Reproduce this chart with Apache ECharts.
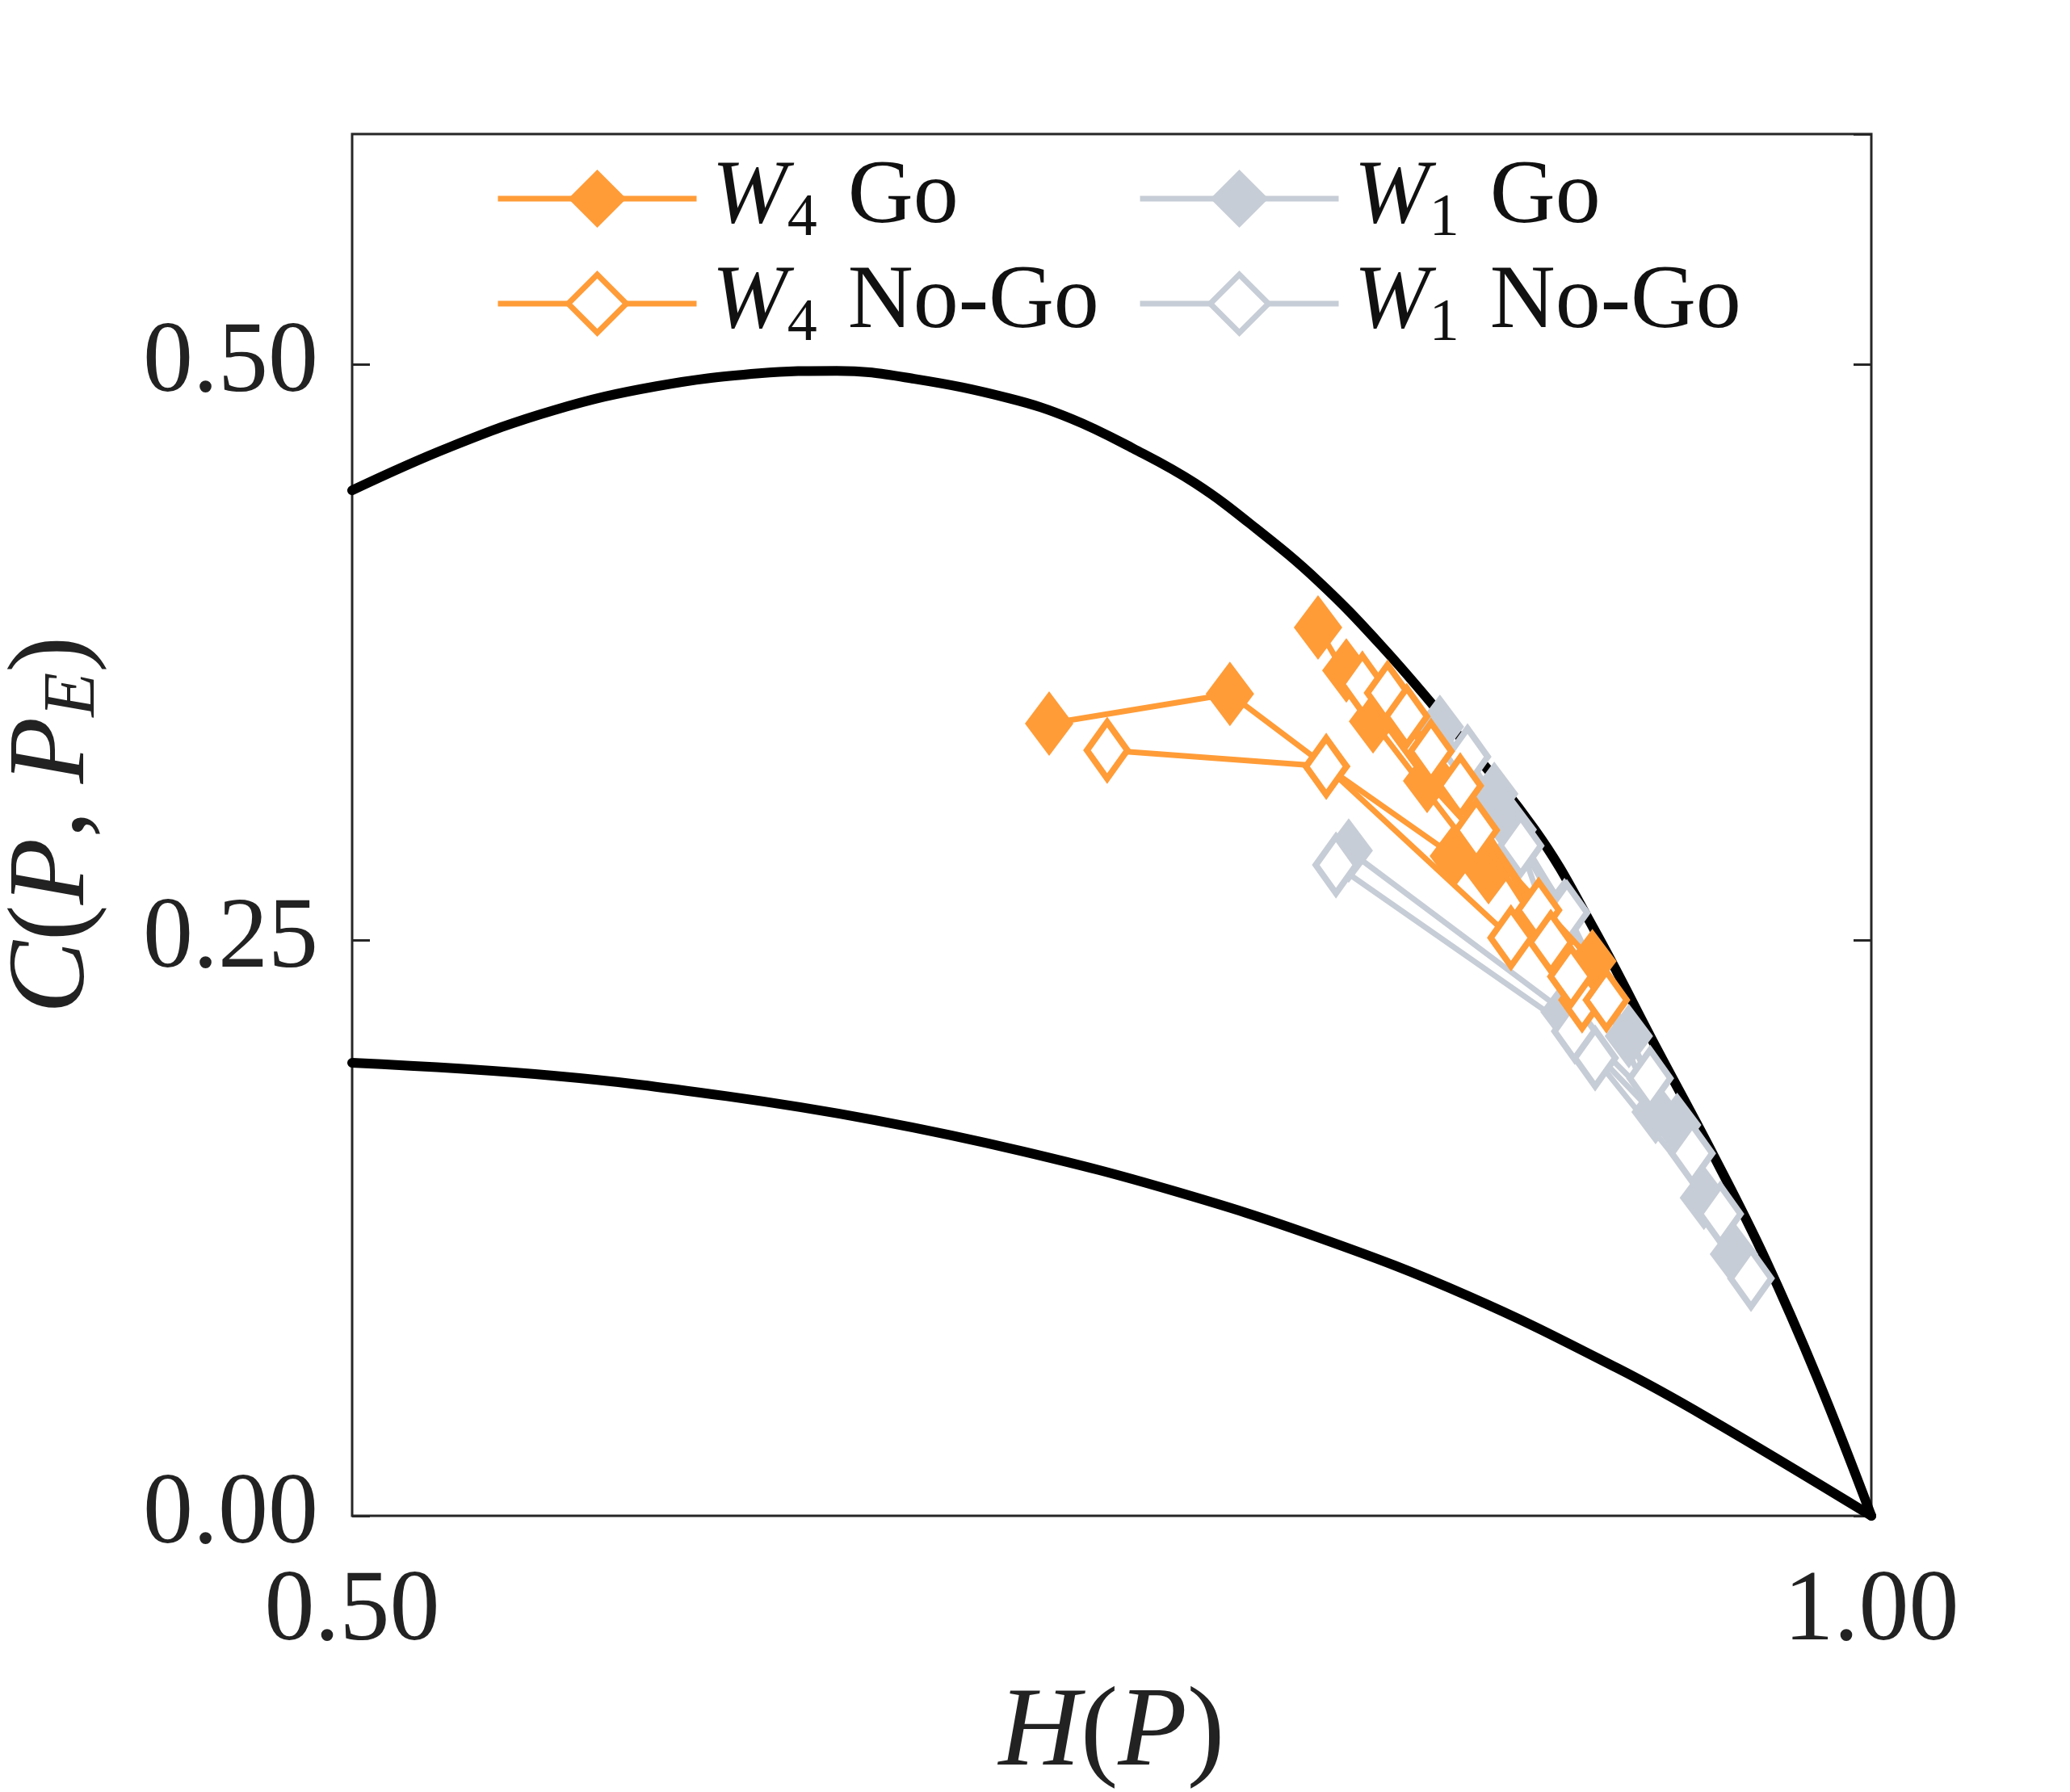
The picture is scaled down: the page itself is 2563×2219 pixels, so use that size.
<!DOCTYPE html>
<html>
<head>
<meta charset="utf-8">
<script src="https://cdn.jsdelivr.net/npm/echarts@6/dist/echarts.min.js"></script>
<style>
html, body { margin: 0; padding: 0; background: #fff; }
#chart { width: 2563px; height: 2219px; }
</style>
</head>
<body>
<div id="chart"></div>
<script>
// bounds of the complexity-entropy plane [H, C]
var upperBound = [[0.5, 0.4453], [0.5324, 0.4642], [0.5662, 0.48], [0.6002, 0.4905], [0.634, 0.4961],
    [0.6595, 0.4972], [0.685, 0.4937], [0.7164, 0.4852], [0.7367, 0.4764], [0.757, 0.4635],
    [0.7774, 0.4484], [0.7977, 0.4285], [0.8181, 0.4057], [0.8384, 0.3783], [0.8588, 0.3472],
    [0.8892, 0.298], [0.9085, 0.2553], [0.9296, 0.2023], [0.9479, 0.1569], [0.9651, 0.1115],
    [0.9823, 0.0596], [1, 0]];
var lowerBound = [[0.5, 0.1967], [0.5662, 0.1911], [0.6233, 0.1822], [0.6721, 0.1718], [0.7209, 0.1582],
    [0.7698, 0.1413], [0.8186, 0.1206], [0.8674, 0.0954], [0.9163, 0.0642], [0.9458, 0.0428], [1, 0]];

// each series = several connected trajectories [H, C]
var w4Go = [
    [[0.7294, 0.344], [0.7889, 0.3569], [0.8206, 0.3254], [0.8626, 0.2865]],
    [[0.8179, 0.3857], [0.836, 0.345], [0.874, 0.2795]],
    [[0.8272, 0.3671], [0.8538, 0.3191], [0.9082, 0.2408]]
];
var w4NoGo = [
    [[0.7485, 0.3324], [0.8206, 0.3254], [0.8814, 0.251]],
    [[0.8325, 0.3612], [0.8551, 0.332], [0.8905, 0.263], [0.9048, 0.224]],
    [[0.8408, 0.3573], [0.8647, 0.317], [0.8945, 0.249], [0.9128, 0.224]],
    [[0.8471, 0.3471], [0.87, 0.2977], [0.9011, 0.2342]]
];
var w1Go = [
    [[0.828, 0.2889], [0.899, 0.2188], [0.9361, 0.1697]],
    [[0.858, 0.3426], [0.882, 0.298], [0.9202, 0.2083], [0.9449, 0.1381]],
    [[0.8759, 0.3135], [0.899, 0.263], [0.929, 0.1753], [0.9548, 0.1136]]
];
var w1NoGo = [
    [[0.8238, 0.2826], [0.9024, 0.2104], [0.941, 0.1574]],
    [[0.8671, 0.3296], [0.8998, 0.2619], [0.9272, 0.19], [0.9604, 0.1031]],
    [[0.8846, 0.291], [0.9091, 0.1988], [0.9503, 0.1311]]
];

var ORANGE = '#FF9C38';
var GREY = '#C7CDD6';
var SERIF = "'Liberation Serif', 'DejaVu Serif', serif";

function trajSeries(name, trajs, color, hollow, z) {
    return trajs.map(function (t) {
        return {
            name: name,
            type: 'line',
            data: t,
            z: z,
            symbol: 'diamond',
            symbolSize: hollow ? [50, 70] : [60, 80],
            lineStyle: { color: color, width: 7 },
            itemStyle: hollow ? { color: '#fff', borderColor: color, borderWidth: 8 }
                              : { color: color, borderWidth: 0 },
            emphasis: { disabled: true }
        };
    });
}

function boundSeries(data) {
    return {
        type: 'line', data: data, z: 1, symbol: 'none',
        smooth: 0.4,
        lineStyle: { color: '#000', width: 12, cap: 'round' },
        emphasis: { disabled: true }
    };
}

var legendRich = {
    i: { fontFamily: SERIF, fontStyle: 'italic', fontSize: 112, lineHeight: 120, color: '#111' },
    s: { fontFamily: SERIF, fontSize: 74, lineHeight: 120, padding: [52, 0, 0, 0], color: '#111' },
    n: { fontFamily: SERIF, fontSize: 112, lineHeight: 120, padding: [0, 0, 0, 10], color: '#111' }
};
function legendText(name) {
    var p = name.split(' ');
    return '{i|W}{s|' + p[0].charAt(1) + '}{n| ' + p.slice(1).join(' ') + '}';
}
function makeLegend(left, names) {
    return {
        orient: 'vertical', left: left, top: 178,
        itemWidth: 246, itemHeight: 90, itemGap: 4,
        selectedMode: false,
        lineStyle: { width: 7 },
        data: [{ name: names[0] }, { name: names[1], itemStyle: { borderWidth: 7 } }],
        formatter: legendText,
        textStyle: { rich: legendRich, padding: [0, 0, 0, 14] }
    };
}

var chart = echarts.init(document.getElementById('chart'));
chart.setOption({
    animation: false,
    backgroundColor: '#fff',
    grid: { left: 436, right: 246, top: 166, bottom: 342, outerBoundsMode: 'none',
        show: true, borderColor: '#262626', borderWidth: 3 },
    legend: [
        makeLegend(608, ['W4 Go', 'W4 No-Go']),
        makeLegend(1403, ['W1 Go', 'W1 No-Go'])
    ],
    xAxis: {
        type: 'value', min: 0.5, max: 1, interval: 0.5,
        splitLine: { show: false }, axisLine: { show: false }, axisTick: { show: false },
        axisLabel: { fontFamily: SERIF, fontSize: 124, color: '#222', margin: 58,
            formatter: function (v) { return v.toFixed(2); } },
        name: '{i|H}{n|(}{i|P}{n|)}', nameLocation: 'middle', nameGap: 196,
        nameTextStyle: { rich: {
            i: { fontFamily: SERIF, fontStyle: 'italic', fontSize: 140, lineHeight: 150, color: '#222' },
            n: { fontFamily: SERIF, fontSize: 140, lineHeight: 150, color: '#222' }
        } }
    },
    yAxis: [{
        type: 'value', min: 0, max: 0.6, interval: 0.25,
        splitLine: { show: false }, axisLine: { show: false },
        axisTick: { show: true, inside: true, length: 22, lineStyle: { color: '#262626', width: 3 } },
        axisLabel: { fontFamily: SERIF, fontSize: 124, color: '#222', margin: 42, showMaxLabel: false,
            formatter: function (v) { return v.toFixed(2); } },
        name: '{i|C}{n|(}{i|P}{n|, }{i|P}{s|E}{n|)}', nameLocation: 'middle', nameGap: 296,
        nameTextStyle: { rich: {
            i: { fontFamily: SERIF, fontStyle: 'italic', fontSize: 135, lineHeight: 145, color: '#222' },
            n: { fontFamily: SERIF, fontSize: 135, lineHeight: 145, color: '#222' },
            s: { fontFamily: SERIF, fontStyle: 'italic', fontSize: 90, lineHeight: 145, padding: [50, 0, 0, 0], color: '#222' }
        } }
    }, {
        type: 'value', min: 0, max: 0.6, interval: 0.25, position: 'right',
        splitLine: { show: false }, axisLine: { show: false }, axisLabel: { show: false },
        axisTick: { show: true, inside: true, length: 22, lineStyle: { color: '#262626', width: 3 } }
    }],
    series: [boundSeries(upperBound), boundSeries(lowerBound)]
        .concat(trajSeries('W1 Go', w1Go, GREY, false, 2))
        .concat(trajSeries('W1 No-Go', w1NoGo, GREY, true, 3))
        .concat(trajSeries('W4 Go', w4Go, ORANGE, false, 4))
        .concat(trajSeries('W4 No-Go', w4NoGo, ORANGE, true, 5))
});
</script>
</body>
</html>
